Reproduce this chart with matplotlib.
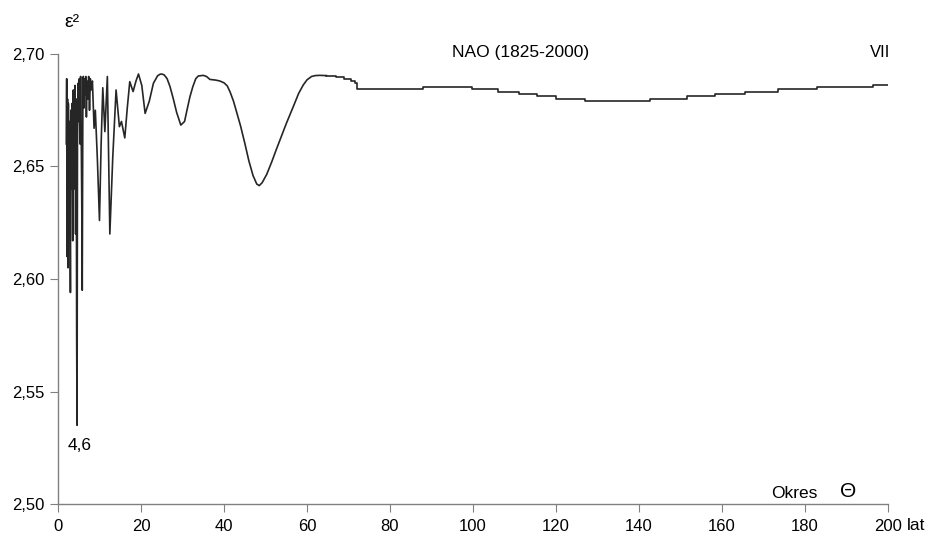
import numpy as np
import matplotlib.pyplot as plt

plt.rcParams['font.family'] = ['Liberation Sans', 'DejaVu Sans']

# smooth / oscillating part of the spectrum (period in years, epsilon^2)
period = [2.0, 2.1, 2.2, 2.3, 2.4, 2.5, 2.6, 2.75, 2.9, 3.0, 3.1, 3.25, 3.4, 3.55,
          3.7, 3.85, 4.0, 4.1, 4.25, 4.4, 4.5, 4.6, 4.7, 4.85, 5.0, 5.15, 5.3, 5.45,
          5.6, 5.75, 5.85, 6.0, 6.1, 6.25, 6.4, 6.55, 6.7, 6.85, 7.0, 7.2, 7.4, 7.6,
          7.8, 8.0, 8.3, 8.7, 9.0, 9.5, 10.0, 10.4, 10.8, 11.3, 11.9, 12.5, 13.2,
          14.0, 14.8, 15.3, 16.1, 16.7, 17.3, 18.1, 18.8, 19.4, 20.2, 21.0, 22.0,
          23.0, 24.0, 24.6, 25.0, 25.6, 26.3, 27.0, 27.8, 28.6, 29.6, 30.5, 31.2,
          31.8, 32.5, 33.2, 33.8, 35.0, 35.8, 36.6, 38.0, 39.0, 40.0, 40.8, 41.5,
          42.3, 43.0, 44.0, 45.0, 46.0, 47.0, 47.9, 48.5, 49.2, 50.3, 51.5, 52.5,
          53.5, 55.0, 56.7, 58.0, 59.1, 60.0, 61.1, 62.0, 63.0, 64.7]
eps2 = [2.660, 2.689, 2.610, 2.680, 2.605, 2.678, 2.660, 2.670, 2.630, 2.594, 2.675,
        2.640, 2.678, 2.617, 2.684, 2.640, 2.665, 2.686, 2.620, 2.680, 2.575, 2.535,
        2.660, 2.687, 2.670, 2.689, 2.660, 2.690, 2.665, 2.630, 2.595, 2.680, 2.690,
        2.676, 2.689, 2.682, 2.690, 2.672, 2.688, 2.680, 2.690, 2.675, 2.689, 2.684,
        2.688, 2.667, 2.675, 2.653, 2.626, 2.660, 2.685, 2.6655, 2.690, 2.620, 2.654,
        2.684, 2.6677, 2.670, 2.6627, 2.676, 2.6877, 2.6833, 2.688, 2.6911, 2.686,
        2.6736, 2.679, 2.687, 2.6903, 2.6910, 2.6911, 2.6907, 2.6890, 2.6855,
        2.680, 2.674, 2.6684, 2.670, 2.676, 2.681, 2.6855, 2.689, 2.6902, 2.6905,
        2.6900, 2.6887, 2.6884, 2.688, 2.6872, 2.6858, 2.683, 2.679, 2.6745, 2.668,
        2.6605, 2.6525, 2.6460, 2.6422, 2.6415, 2.6428, 2.6465, 2.652, 2.657,
        2.6618, 2.669, 2.6766, 2.6825, 2.6862, 2.6885, 2.6900, 2.6904, 2.6905,
        2.6904]

# stepped tail: start of each level and its value
step_start = [64.7, 66.9, 69.0, 70.5, 71.5, 72.0, 88.0, 99.8, 106.0, 111.0, 115.4,
              120.0, 127.0, 142.6, 151.5, 158.3, 165.5, 173.5, 183.0, 196.4, 200.0]
step_level = [2.6904, 2.6897, 2.6890, 2.6882, 2.6873, 2.6843, 2.6852, 2.6843,
              2.6833, 2.6822, 2.6812, 2.6801, 2.6792, 2.6801, 2.6812, 2.6822,
              2.6833, 2.6843, 2.6852, 2.6862, 2.6862]

xticks = [0, 20, 40, 60, 80, 100, 120, 140, 160, 180, 200]
yticks = [2.50, 2.55, 2.60, 2.65, 2.70]

fig = plt.figure(figsize=(9.35, 5.42), dpi=100)
ax = fig.add_axes([0.062, 0.0701, 0.8877, 0.8303])

line_color = '#262626'
ax.plot(period, eps2, color=line_color, lw=1.2)
ax.step(step_start, step_level, where='post', color=line_color, lw=1.2)

ax.set_xlim(0, 200)
ax.set_ylim(2.50, 2.70)
ax.set_xticks(xticks)
ax.set_xticklabels([str(t) for t in xticks])
ax.set_yticks(yticks)
ax.set_yticklabels([f'{t:.2f}'.replace('.', ',') for t in yticks])

for s in ['top', 'right']:
    ax.spines[s].set_visible(False)
for s in ['left', 'bottom']:
    ax.spines[s].set_color('#808080')
    ax.spines[s].set_linewidth(1.0)
ax.tick_params(axis='both', colors='#808080', labelcolor='black', labelsize=12,
               length=6, direction='out')
ax.tick_params(axis='x', pad=5)
ax.tick_params(axis='y', pad=4)

ax.text(0.008, 1.05, '\u03b5\u00b2', transform=ax.transAxes, fontsize=14,
        ha='left', va='bottom')
ax.text(111.5, 2.6975, 'NAO (1825-2000)', fontsize=12.5, ha='center', va='bottom')
ax.text(198, 2.6975, 'VII', fontsize=12, ha='center', va='bottom')
ax.text(5.3, 2.526, '4,6', fontsize=12.5, ha='center', va='center')
ax.text(177.5, 2.5015, 'Okres', fontsize=12.5, ha='center', va='bottom')
ax.text(190.5, 2.5015, '\u0398', fontsize=15, ha='center', va='bottom')
ax.text(1.023, -0.047, 'lat', transform=ax.transAxes, fontsize=12.5,
        ha='left', va='center')

fig.savefig('out.png', dpi=100)
